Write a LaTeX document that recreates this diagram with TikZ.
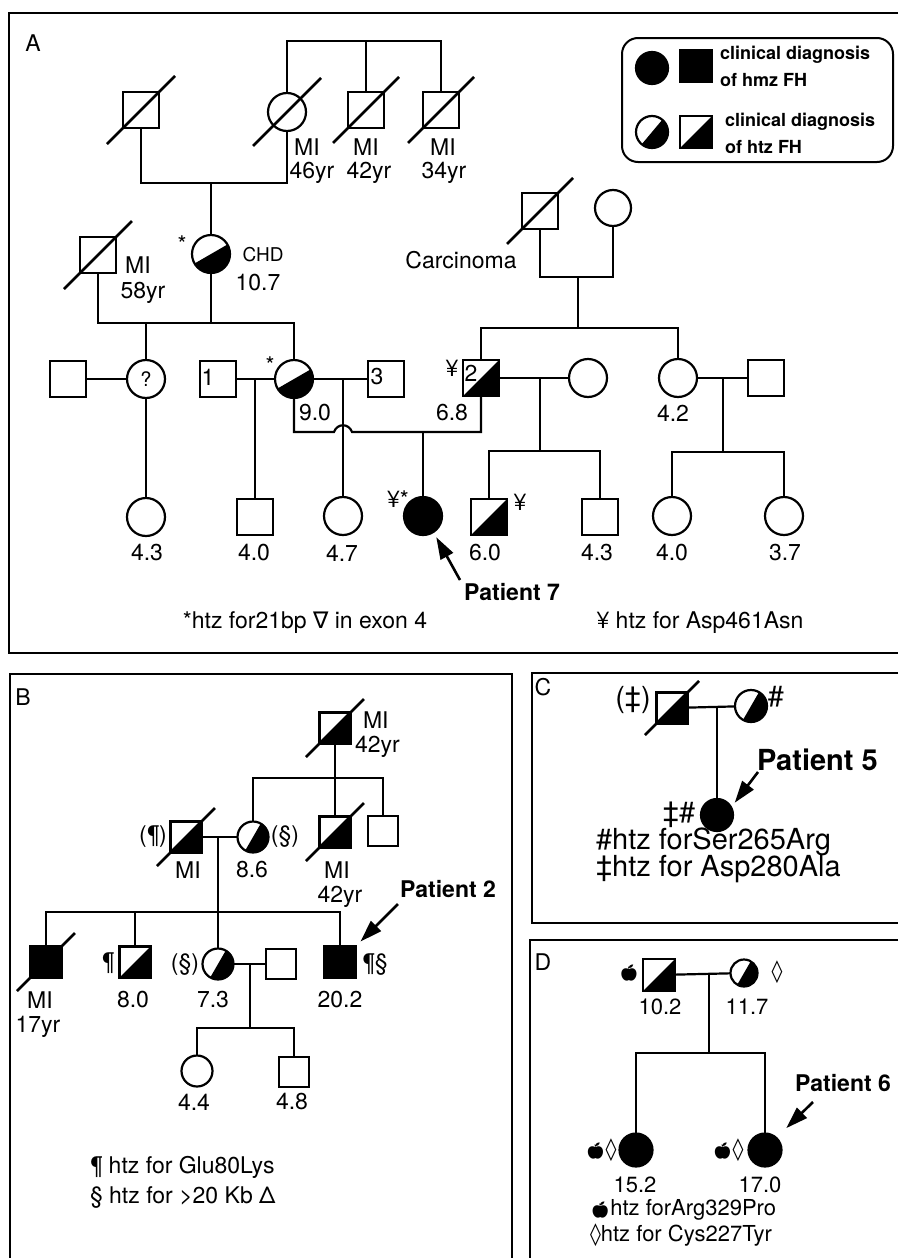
\documentclass[tikz,border=0pt]{standalone}
\usepackage{fontspec}
\setmainfont{TeX Gyre Heros}
\newfontfamily\dejavu{DejaVu Sans}
\newfontfamily\emojifont{Noto Emoji}
\usetikzlibrary{arrows.meta}
\newcommand{\apl}{{\emojifont\fontsize{16}{18}\selectfont 🍎}}
\newcommand{\lzg}{{\dejavu ◊}}
\newcommand{\nbl}{{\dejavu ∇}}
\newcommand{\slashx}[2]{\draw[slashln, shift={(#1.center)}] (-#2pt,-#2pt) -- (#2pt,#2pt);}
\tikzset{
  ln/.style={line width=2.2pt},
  slashln/.style={line width=2.6pt},
  frm/.style={line width=2.5pt},
  sq/.style={draw, line width=2.2pt, rectangle, minimum size=#1, inner sep=0pt, outer sep=0pt},
  sq/.default=36pt,
  ci/.style={draw, line width=2.2pt, circle, minimum size=#1, inner sep=0pt, outer sep=0pt},
  ci/.default=38pt,
  aff/.style={fill=black},
  hsq/.style={path picture={\fill[black] (path picture bounding box.south west) -- (path picture bounding box.south east) -- (path picture bounding box.north east) -- cycle;}},
  hci/.style={path picture={\fill[black] (path picture bounding box.center) ++(#1:40pt) -- ++({#1-90}:40pt) -- ++({#1+180}:80pt) -- ++({#1+90}:40pt) -- cycle;}},
  txt/.style={inner sep=0pt, outer sep=0pt, font=\fontsize{23}{25}\selectfont},
  txd/.style={inner sep=0pt, outer sep=0pt, font=\fontsize{22}{24}\selectfont},
  txc/.style={inner sep=0pt, outer sep=0pt, font=\fontsize{29}{31}\selectfont},
  lgtxt/.style={inner sep=0pt, outer sep=0pt, anchor=west, font=\fontsize{18}{20}\selectfont\bfseries},
  pat/.style={inner sep=0pt, outer sep=0pt, font=\fontsize{23}{25}\selectfont\bfseries},
  arr/.style={line width=2.6pt, -{Triangle[length=22pt, width=14pt]}},
}
\begin{document}
\begin{tikzpicture}[x=1pt, y=-1pt]
\useasboundingbox (0,0) rectangle (898,1258);
% ---------- frames ----------
\draw[frm] (898,13) -- (9,13) -- (9,653) -- (898,653);
\draw[frm] (10,1258) -- (10,674) -- (512,674) -- (512,1258);
\draw[frm] (898,673) -- (532,673) -- (532,923) -- (898,923);
\draw[frm] (898,940) -- (530,940) -- (530,1258);

% ================= PANEL A =================
\node[txt] (labA) at (33,43) {A};
% generation I
\node[sq] (a1) at (141,110) {};
\node[ci] (a2) at (287,112) {};
\node[sq] (a3) at (366,110) {};
\node[sq] (a4) at (441,110) {};
\slashx{a1}{34}\slashx{a2}{34}\slashx{a3}{33}\slashx{a4}{33}
\coordinate (sib0) at (366,41);
\draw[ln] (a2.north) |- (sib0) -| (a4.north);
\draw[ln] (sib0) -- (a3.north);
\node[txt] (la2a) at (307,147) {MI};
\node[txt] (la2b) at (312,173) {46yr};
\node[txt] (la3a) at (366,147) {MI};
\node[txt] (la3b) at (369,173) {42yr};
\node[txt] (la4a) at (443,147) {MI};
\node[txt] (la4b) at (444,173) {34yr};
% generation II
\node[sq] (b1) at (98,255) {};
\slashx{b1}{34}
\node[ci, hci=30] (b2) at (211,254) {};
\coordinate (m0) at (211,183);
\draw[ln] (a1.south) |- (m0) -| (a2.south);
\draw[ln] (m0) -- (b2.north);
\node[txt] (lb1a) at (138,265) {MI};
\node[txt] (lb1b) at (143,293) {58yr};
\node[txt] (lb2s) at (182,244) {*};
\node[txt, font=\fontsize{19}{21}\selectfont] (lb2a) at (263,255) {CHD};
\node[txt] (lb2b) at (258,283) {10.7};
% Carcinoma couple
\node[sq] (e1) at (540,211) {};
\slashx{e1}{33}
\node[ci=36pt] (e2) at (613,208) {};
\node[txt] (le1) at (461,260) {Carcinoma};
\coordinate (m6) at (578,277);
\draw[ln] (e1.south) |- (m6) -| (e2.south);
% generation III
\node[sq] (c1) at (68,379) {};
\node[ci, font=\fontsize{20}{22}\selectfont] (c2) at (146,379) {?};
\node[sq] (c3) at (218,379) {};
\node[ci, hci=30] (c4) at (294,379) {};
\node[sq] (c5) at (386,379) {};
\node[sq, hsq] (c6) at (481,378) {};
\node[ci] (c7) at (588,378) {};
\node[ci] (c8) at (678,378) {};
\node[sq] (c9) at (766,378) {};
\node[txt] (lc3) at (208,377) {1};
\node[txt] (lc5) at (377,377) {3};
\node[txt] (lc6) at (471,373) {2};
\coordinate (m1b) at (211,323);
\coordinate (m1) at (146,323);
\draw[ln] (b1.south) |- (m1b) -| (c4.north);
\draw[ln] (b2.south) -- (m1b);
\draw[ln] (m1) -- (c2.north);
\draw[ln] (c1) -- (c2);
\draw[ln] (c3) -- (c4);
\draw[ln] (c4) -- (c5);
\coordinate (s6) at (578,328);
\draw[ln] (m6) -- (s6);
\draw[ln] (c6.north) |- (s6) -| (c8.north);
\draw[ln] (c6) -- (c7);
\draw[ln] (c8) -- (c9);
\node[txt] (lc4s) at (270,365) {*};
\node[txt] (lc4) at (315,413) {9.0};
\node[txt] (lc6y) at (452,368) {¥};
\node[txt] (lc6n) at (452,413) {6.8};
\node[txt] (lc8) at (673,413) {4.2};
% generation IV
\node[ci] (d1) at (146,517) {};
\node[sq] (d2) at (255,517) {};
\node[ci] (d3) at (343,516) {};
\node[ci, aff] (d4) at (423,516) {};
\node[sq, hsq] (d5) at (489,517) {};
\node[sq] (d6) at (600,517) {};
\node[ci] (d7) at (672,516) {};
\node[ci] (d8) at (784,516) {};
\draw[ln] (c2.south) -- (d1.north);
\coordinate (m3) at (255,379);
\draw[ln] (m3) -- (d2.north);
\coordinate (m4) at (343,379);
\draw[ln] (m4) -- (d3.north);
\coordinate (hop1) at (334,432);
\coordinate (hop2) at (352,432);
\draw[ln] (c4.south) |- (hop1) .. controls +(3,-9) and +(-3,-9) .. (hop2) -| (c6.south);
\coordinate (m5) at (423,432);
\draw[ln] (m5) -- (d4.north);
\coordinate (m7) at (540,378);
\coordinate (s7) at (540,451);
\draw[ln] (m7) -- (s7);
\draw[ln] (d5.north) |- (s7) -| (d6.north);
\coordinate (m8) at (723,378);
\coordinate (s8) at (723,452);
\draw[ln] (m8) -- (s8);
\draw[ln] (d7.north) |- (s8) -| (d8.north);
\node[txt] (ld1) at (147,553) {4.3};
\node[txt] (ld2) at (254,553) {4.0};
\node[txt] (ld3) at (342,553) {4.7};
\node[txt] (ld4s) at (398,499) {¥*};
\node[txt] (ld5y) at (520,502) {¥};
\node[txt] (ld5) at (485,553) {6.0};
\node[txt] (ld6) at (597,553) {4.3};
\node[txt] (ld7) at (672,553) {4.0};
\node[txt] (ld8) at (785,553) {3.7};
\node[pat] (p7) at (512,592) {Patient 7};
\coordinate (p7t) at (460,580);
\draw[arr, shorten >=6pt] (p7t) -- (d4.-57);
\node[txt] (fa1) at (305,623) {*htz for21bp \nbl\ in exon 4};
\node[txt] (fa2) at (700,623) {¥ htz for Asp461Asn};
% legend
\draw[line width=2pt, rounded corners=16pt] (622,38) rectangle (893,162);
\node[ci=32pt, aff] (lg1) at (652,68) {};
\node[sq=32pt, aff] (lg2) at (696,66) {};
\node[lgtxt] (lg3) at (720,55) {clinical diagnosis};
\node[lgtxt] (lg4) at (720,80) {of hmz FH};
\node[ci=32pt, hci=50] (lg5) at (652,132) {};
\node[sq=32pt, hsq] (lg6) at (696,132) {};
\node[lgtxt] (lg7) at (725,122) {clinical diagnosis};
\node[lgtxt] (lg8) at (725,147) {of htz FH};

% ================= PANEL B =================
\node[txt] (labB) at (23,697) {B};
\node[sq=31pt, hsq] (f1) at (335,728) {};
\slashx{f1}{29}
\node[txt, anchor=west] (lf1a) at (363,720) {MI};
\node[txt, anchor=west] (lf1b) at (355,747) {42yr};
\node[sq=31pt, hsq] (g1) at (186,837) {};
\slashx{g1}{29}
\node[ci=31pt, hci=60] (f2) at (253,837) {};
\node[sq=31pt, hsq] (f3) at (335,832) {};
\slashx{f3}{29}
\node[sq=30pt] (f4) at (383,831) {};
\coordinate (sb1) at (335,778);
\draw[ln] (f1.south) -- (f3.north);
\draw[ln] (f2.north) |- (sb1) -| (f4.north);
\draw[ln] (g1) -- (f2);
\node[txt] (lg1a) at (153,837) {(¶)};
\node[txt] (lg1b) at (188,870) {MI};
\node[txt] (lf2a) at (285,837) {(§)};
\node[txt] (lf2b) at (252,870) {8.6};
\node[txt] (lf3a) at (337,870) {MI};
\node[txt] (lf3b) at (340,897) {42yr};
% children
\node[sq=31pt, aff] (h1) at (46,962) {};
\slashx{h1}{29}
\node[sq=31pt, hsq] (h2) at (135,962) {};
\node[ci=31pt, hci=60] (h3) at (218,964) {};
\node[sq=30pt] (h4) at (281,964) {};
\node[sq=31pt, aff] (h5) at (340,962) {};
\coordinate (mb) at (218,837);
\coordinate (sb2) at (218,912);
\coordinate (sb3) at (135,912);
\draw[ln] (mb) -- (h3.north);
\draw[ln] (h1.north) |- (sb2) -| (h5.north);
\draw[ln] (sb3) -- (h2.north);
\draw[ln] (h3) -- (h4);
\node[txt] (lh1a) at (40,1000) {MI};
\node[txt] (lh1b) at (38,1027) {17yr};
\node[txt] (lh2a) at (108,963) {¶};
\node[txt] (lh2b) at (133,1000) {8.0};
\node[txt] (lh3a) at (185,965) {(§)};
\node[txt] (lh3b) at (213,1000) {7.3};
\node[txt] (lh5a) at (375,965) {¶§};
\node[txt] (lh5b) at (340,1000) {20.2};
\node[pat] (p2) at (448,889) {Patient 2};
\coordinate (p2t) at (398,904);
\draw[arr, shorten >=7pt] (p2t) -- (h5.north east);
% grandchildren
\node[ci=31pt] (i1) at (197,1071) {};
\node[sq=30pt] (i2) at (294,1072) {};
\coordinate (mh) at (250,964);
\coordinate (sh) at (250,1028);
\draw[ln] (mh) -- (sh);
\draw[ln] (i1.north) |- (sh) -| (i2.north);
\node[txt] (li1) at (194,1102) {4.4};
\node[txt] (li2) at (292,1102) {4.8};
\node[txt, anchor=west] (fb1) at (90,1167) {¶ htz for Glu80Lys};
\node[txt, anchor=west] (fb2) at (90,1198) {§ htz for >20 Kb Δ};

% ================= PANEL C =================
\node[txt] (labC) at (543,687) {C};
\node[sq=31pt, hsq] (j1) at (672,708) {};
\slashx{j1}{27}
\node[ci=32pt, hci=60] (j2) at (751,706) {};
\node[ci=32pt, aff] (j3) at (717,815) {};
\draw[ln] (j1) -- (j2);
\coordinate (mc) at (717,707);
\draw[ln] (mc) -- (j3.north);
\node[txc] (lj1) at (633,700) {(‡)};
\node[txc] (lj2) at (776,697) {\#};
\node[txc] (lj3) at (679,815) {‡\#};
\node[pat, font=\fontsize{29}{31}\selectfont\bfseries, anchor=west] (p5) at (757,760) {Patient 5};
\coordinate (p5t) at (758,772);
\draw[arr, shorten >=6pt] (p5t) -- (j3.28);
\node[txc, anchor=west] (fc1) at (596,842) {\#htz forSer265Arg};
\node[txc, anchor=west] (fc2) at (596,869) {‡htz for Asp280Ala};

% ================= PANEL D =================
\node[txt] (labD) at (543,962) {D};
\node[sq=32pt, hsq] (k1) at (659,975) {};
\node[ci=27pt, hci=60] (k2) at (744,973) {};
\node[ci=33pt, aff] (k3) at (636,1150) {};
\node[ci=33pt, aff] (k4) at (765,1150) {};
\draw[ln] (k1) -- (k2);
\coordinate (md) at (709,974);
\coordinate (sd) at (709,1053);
\draw[ln] (md) -- (sd);
\draw[ln] (k3.north) |- (sd) -| (k4.north);
\node[txd] (lk1) at (629,973) {\apl};
\node[txd] (lk2) at (777,972) {\lzg};
\node[txd] (lk1b) at (660,1007) {10.2};
\node[txd] (lk2b) at (747,1007) {11.7};
\node[txd] (lk3) at (601,1150) {\apl\lzg};
\node[txd] (lk4) at (728,1150) {\apl\lzg};
\node[txd] (lk3b) at (635,1185) {15.2};
\node[txd] (lk4b) at (760,1185) {17.0};
\node[pat] (p6) at (843,1083) {Patient 6};
\coordinate (p6t) at (813,1102);
\draw[arr, shorten >=14pt] (p6t) -- (k4.47);
\node[txd, anchor=west] (fd1) at (590,1210) {\apl htz forArg329Pro};
\node[txd, anchor=west] (fd2) at (590,1235) {\lzg htz for Cys227Tyr};
\end{tikzpicture}
\end{document}
